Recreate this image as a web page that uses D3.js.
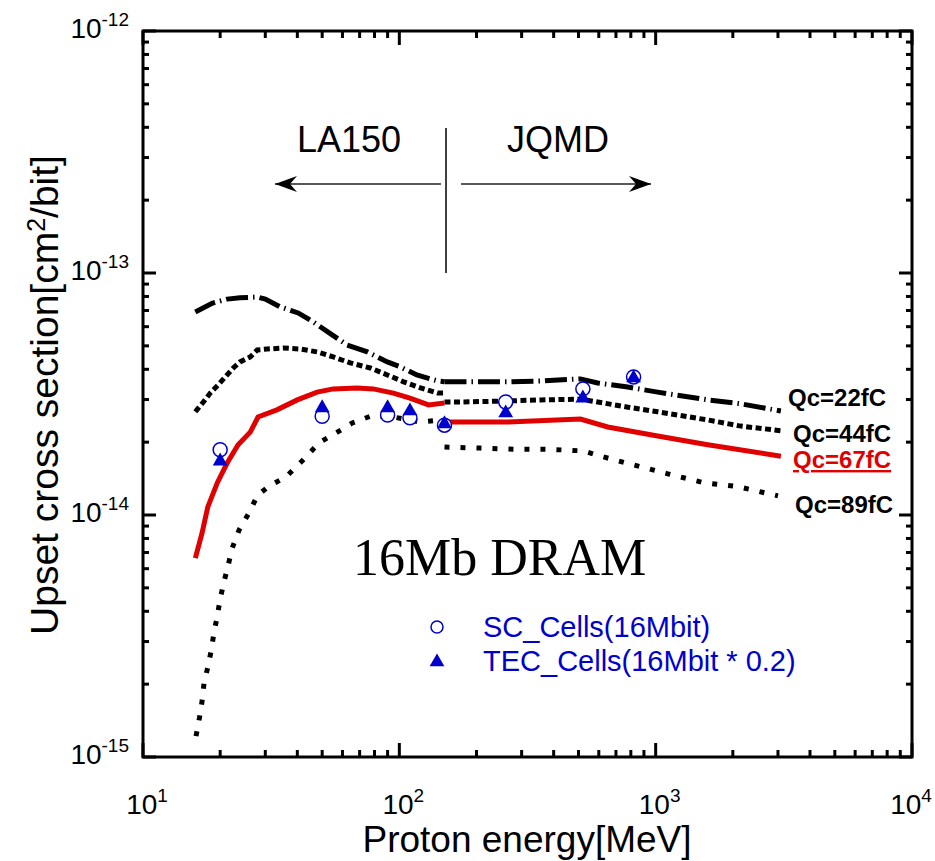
<!DOCTYPE html>
<html>
  <head>
    <script type="text/javascript" src="https://cdn.jsdelivr.net/npm/d3@7/dist/d3.min.js"></script>
    <style>
      body { margin: 0; background: white; }
      text { font-family: "Liberation Sans", Arial, sans-serif; }
    </style>
  </head>
  <body>
  <script type='text/javascript'>

    // curves: [proton energy MeV, cross section cm2/bit]
    var qc22LA150 = [[16.0,6.9e-14],[18.6,7.5e-14],[21.3,7.8e-14],[23.9,7.9e-14],[27.9,7.96e-14],[30.0,7.8e-14],
                     [34.3,7.24e-14],[40.3,6.84e-14],[46.1,6.28e-14],[54.7,5.55e-14],[62.6,5.04e-14],[75,4.72e-14],
                     [89.8,4.29e-14],[101,4.09e-14],[117,3.79e-14],[141,3.58e-14],[150,3.55e-14]];
    var qc22JQMD  = [[150,3.55e-14],[173,3.55e-14],[264,3.55e-14],[356,3.58e-14],[509,3.65e-14],[594,3.51e-14],
                     [778,3.38e-14],[1018,3.22e-14],[1596,2.99e-14],[2148,2.88e-14],[3080,2.69e-14]];

    var qc44LA150 = [[16.0,2.67e-14],[17.2,2.93e-14],[18.3,3.19e-14],[19.6,3.44e-14],[20.9,3.71e-14],[22.5,4.05e-14],
                     [23.9,4.29e-14],[26.2,4.5e-14],[27.9,4.81e-14],[30.5,4.85e-14],[35.2,4.9e-14],[41,4.85e-14],
                     [47.8,4.72e-14],[55.2,4.5e-14],[64.4,4.25e-14],[77.1,4.05e-14],[89.8,3.79e-14],[104,3.55e-14],
                     [121,3.35e-14],[141,3.19e-14],[150,3.19e-14]];
    var qc44JQMD  = [[150,2.93e-14],[173,2.93e-14],[264,2.96e-14],[356,2.99e-14],[509,3.01e-14],[594,2.93e-14],
                     [778,2.79e-14],[1018,2.67e-14],[1596,2.47e-14],[2148,2.33e-14],[3080,2.23e-14]];

    var qc67LA150 = [[16.0,6.64e-15],[17.0,8.43e-15],[17.9,1.08e-14],[19.5,1.36e-14],[21.3,1.64e-14],[23.5,1.95e-14],
                     [26.2,2.2e-14],[28.1,2.54e-14],[33.3,2.72e-14],[40,2.99e-14],[47.8,3.22e-14],[55.2,3.32e-14],
                     [68.5,3.35e-14],[79.1,3.32e-14],[94.8,3.19e-14],[110,3.04e-14],[130,2.85e-14],[150,2.9e-14]];
    var qc67JQMD  = [[150,2.42e-14],[264,2.42e-14],[509,2.49e-14],[650,2.31e-14],[1018,2.12e-14],[1596,1.95e-14],
                     [3080,1.75e-14]];

    var qc89LA150 = [[16.1,1.22e-15],[16.6,1.45e-15],[17.0,1.7e-15],[17.3,2.02e-15],[17.9,2.35e-15],[18.5,2.79e-15],
                     [18.9,3.25e-15],[19.5,3.83e-15],[20.0,4.5e-15],[20.7,5.29e-15],[21.5,6.21e-15],[22.3,7.31e-15],
                     [23.7,8.67e-15],[25.9,1.02e-14],[27.9,1.2e-14],[30.8,1.31e-14],[36.2,1.44e-14],[42.2,1.69e-14],
                     [48.7,1.99e-14],[57.3,2.2e-14],[65.5,2.4e-14],[77.1,2.56e-14],[94.8,2.54e-14],[121,2.42e-14],
                     [145,2.47e-14]];
    var qc89JQMD  = [[150,1.91e-14],[207,1.89e-14],[279,1.87e-14],[378,1.87e-14],[523,1.84e-14],[610,1.75e-14],
                     [820,1.61e-14],[1114,1.48e-14],[1541,1.36e-14],[2089,1.31e-14],[3000,1.2e-14]];

    // measured points
    var measEnergy = [20, 50, 90, 110, 150, 260, 520, 820];
    var scCells    = [1.86e-14, 2.56e-14, 2.59e-14, 2.52e-14, 2.35e-14, 2.93e-14, 3.32e-14, 3.72e-14];
    var tecCells   = [1.67e-14, 2.77e-14, 2.77e-14, 2.69e-14, 2.38e-14, 2.64e-14, 3.04e-14, 3.68e-14];

    var xTickExp = [1, 2, 3, 4];
    var yTickExp = [-15, -14, -13, -12];

    var BLUE = "#0000cd";
    var RED = "#e00000";

    var svg = d3.select("body").append("svg")
        .attr("width", 935)
        .attr("height", 861);

    var x = d3.scaleLog().domain([10, 1e4]).range([143, 912]);
    var y = d3.scaleLog().domain([1e-15, 1e-12]).range([757, 31]);

    var line = d3.line()
        .x(function(d){ return x(d[0]); })
        .y(function(d){ return y(d[1]); });

    // ticks on all four sides, pointing inward
    var minorX = [], minorY = [];
    for (var e = 1; e < 4; e++) for (var m = 2; m < 10; m++) minorX.push(m * Math.pow(10, e));
    for (var e = -15; e < -12; e++) for (var m = 2; m < 10; m++) minorY.push(m * Math.pow(10, e));

    var ticks = svg.append("g").attr("stroke", "black").attr("stroke-width", 3);
    minorX.forEach(function(v){
      ticks.append("line").attr("x1", x(v)).attr("x2", x(v)).attr("y1", 757).attr("y2", 750);
      ticks.append("line").attr("x1", x(v)).attr("x2", x(v)).attr("y1", 31).attr("y2", 38);
    });
    xTickExp.forEach(function(k){
      var v = Math.pow(10, k);
      ticks.append("line").attr("x1", x(v)).attr("x2", x(v)).attr("y1", 757).attr("y2", 743);
      ticks.append("line").attr("x1", x(v)).attr("x2", x(v)).attr("y1", 31).attr("y2", 45);
    });
    minorY.forEach(function(v){
      ticks.append("line").attr("y1", y(v)).attr("y2", y(v)).attr("x1", 143).attr("x2", 149);
      ticks.append("line").attr("y1", y(v)).attr("y2", y(v)).attr("x1", 912).attr("x2", 906);
    });
    yTickExp.forEach(function(k){
      var v = Math.pow(10, k);
      ticks.append("line").attr("y1", y(v)).attr("y2", y(v)).attr("x1", 143).attr("x2", 156);
      ticks.append("line").attr("y1", y(v)).attr("y2", y(v)).attr("x1", 912).attr("x2", 899);
    });

    svg.append("rect")
        .attr("x", 143).attr("y", 31)
        .attr("width", 912 - 143).attr("height", 757 - 31)
        .attr("fill", "none").attr("stroke", "black").attr("stroke-width", 3);

    // tick labels
    xTickExp.forEach(function(k){
      var t = svg.append("text")
          .attr("x", Math.min(x(Math.pow(10, k)) + 4, 911)).attr("y", 814)
          .attr("text-anchor", "middle").attr("font-size", 28);
      t.append("tspan").text("10");
      t.append("tspan").attr("dy", -12).attr("font-size", 19).text(k);
    });
    yTickExp.forEach(function(k){
      var t = svg.append("text")
          .attr("x", 129).attr("y", y(Math.pow(10, k)) + 7)
          .attr("text-anchor", "end").attr("font-size", 28);
      t.append("tspan").text("10");
      t.append("tspan").attr("dy", -12).attr("font-size", 19).text(k);
    });

    // axis titles
    svg.append("text")
        .attr("x", 527).attr("y", 852)
        .attr("text-anchor", "middle").attr("font-size", 37)
        .text("Proton energy[MeV]");

    var yt = svg.append("text")
        .attr("transform", "translate(58,395) rotate(-90)")
        .attr("text-anchor", "middle").attr("font-size", 39);
    yt.append("tspan").text("Upset cross section[cm");
    yt.append("tspan").attr("dy", -13).attr("font-size", 25).text("2");
    yt.append("tspan").attr("dy", 13).text("/bit]");

    // curves
    function curve(data, color, dash, w){
      svg.append("path")
          .datum(data)
          .attr("d", line)
          .attr("fill", "none")
          .attr("stroke", color)
          .attr("stroke-width", w)
          .attr("stroke-dasharray", dash);
    }
    curve(qc22LA150, "black", "22,5,1.5,5", 5);
    curve(qc22JQMD,  "black", "22,5,1.5,5", 5);
    curve(qc44LA150, "black", "6,3.5", 5);
    curve(qc44JQMD,  "black", "6,3.5", 5);
    curve(qc89LA150, "black", "5,11", 5);
    curve(qc89JQMD,  "black", "5,11", 5);
    curve(qc67LA150, RED, null, 5);
    curve(qc67JQMD,  RED, null, 5);

    // measured points
    svg.append("g").selectAll("circle")
        .data(measEnergy)
        .join("circle")
        .attr("cx", function(d){ return x(d); })
        .attr("cy", function(d, i){ return y(scCells[i]); })
        .attr("r", 7)
        .attr("fill", "white")
        .attr("stroke", BLUE)
        .attr("stroke-width", 1.5);

    var tri = d3.symbol().type(d3.symbolTriangle).size(95);
    svg.append("g").selectAll("path")
        .data(measEnergy)
        .join("path")
        .attr("d", tri)
        .attr("transform", function(d, i){ return "translate(" + x(d) + "," + y(tecCells[i]) + ")"; })
        .attr("fill", BLUE);

    // curve labels
    var labels = [
      {t: "Qc=22fC", x: 788, y: 406, c: "black"},
      {t: "Qc=44fC", x: 793, y: 442, c: "black"},
      {t: "Qc=67fC", x: 793, y: 468, c: RED},
      {t: "Qc=89fC", x: 795, y: 513, c: "black"}
    ];
    labels.forEach(function(l){
      svg.append("text")
          .attr("x", l.x).attr("y", l.y)
          .attr("font-size", 24).attr("font-weight", "bold")
          .attr("fill", l.c)
          .attr("text-decoration", l.c == RED ? "underline" : null)
          .text(l.t);
    });

    // LA150 / JQMD annotation
    svg.append("line")
        .attr("x1", 446).attr("x2", 446).attr("y1", 128).attr("y2", 273)
        .attr("stroke", "black").attr("stroke-width", 1.5);

    svg.append("defs").append("marker")
        .attr("id", "head")
        .attr("viewBox", "-23 -10 24 20")
        .attr("refX", 0).attr("refY", 0)
        .attr("markerWidth", 24).attr("markerHeight", 20)
        .attr("markerUnits", "userSpaceOnUse")
        .attr("orient", "auto")
        .append("path")
        .attr("d", "M0,0 L-22,-8 L-15,0 L-22,8 Z")
        .attr("fill", "black");

    svg.append("line")
        .attr("x1", 441).attr("x2", 275).attr("y1", 184).attr("y2", 184)
        .attr("stroke", "#222").attr("stroke-width", 1.5)
        .attr("marker-end", "url(#head)");
    svg.append("line")
        .attr("x1", 461).attr("x2", 651).attr("y1", 184).attr("y2", 184)
        .attr("stroke", "#222").attr("stroke-width", 1.5)
        .attr("marker-end", "url(#head)");

    svg.append("text").attr("x", 297).attr("y", 152).attr("font-size", 36).text("LA150");
    svg.append("text").attr("x", 507).attr("y", 152).attr("font-size", 36).text("JQMD");

    svg.append("text")
        .attr("x", 353).attr("y", 575)
        .attr("font-size", 52)
        .style("font-family", "'Liberation Serif', 'Times New Roman', serif")
        .text("16Mb DRAM");

    // legend
    svg.append("circle").attr("cx", 437).attr("cy", 627).attr("r", 6)
        .attr("fill", "white").attr("stroke", BLUE).attr("stroke-width", 1.5);
    svg.append("path").attr("d", d3.symbol().type(d3.symbolTriangle).size(95))
        .attr("transform", "translate(437,662)").attr("fill", BLUE);
    svg.append("text").attr("x", 483).attr("y", 637).attr("font-size", 29)
        .attr("fill", BLUE).text("SC_Cells(16Mbit)");
    svg.append("text").attr("x", 483).attr("y", 671).attr("font-size", 29)
        .attr("fill", BLUE).text("TEC_Cells(16Mbit * 0.2)");

  </script>
  </body>
</html>
